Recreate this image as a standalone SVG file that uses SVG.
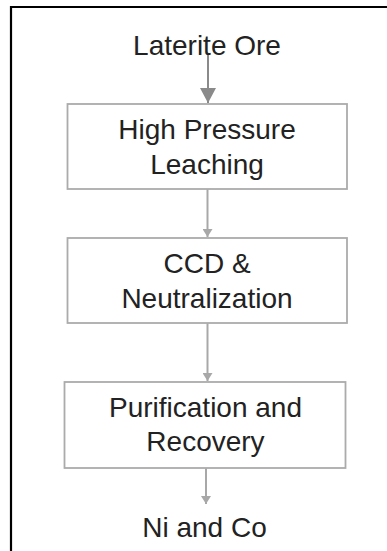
<svg xmlns="http://www.w3.org/2000/svg" width="387" height="551" viewBox="0 0 387 551">
<style>
.t{font-family:"Liberation Sans",Arial,sans-serif;font-size:28px;fill:#222;text-anchor:middle}
.box{fill:#fff;stroke:#ababab;stroke-width:1.8}
.c{stroke:#a8a8a8;stroke-width:2;fill:none}
.c1{stroke:#8a8a8a;stroke-width:2;fill:none}
</style>
<defs>
<marker id="ah" markerWidth="8" markerHeight="10" refX="8" refY="5" orient="auto" markerUnits="userSpaceOnUse">
<path d="M0,0 L8,5 L0,10 z" fill="#a8a8a8"/>
</marker>
<marker id="ah1" markerWidth="15" markerHeight="16" refX="15" refY="8" orient="auto" markerUnits="userSpaceOnUse">
<path d="M0,0 L15,8 L0,16 z" fill="#8a8a8a"/>
</marker>
</defs>
<rect width="387" height="551" fill="#fff"/>
<g id="frame">
<path d="M10,7 H387 M11,6 V551" stroke="#000" stroke-width="2.2" fill="none"/>
</g>
<g id="connectors">
<line class="c1" x1="208" y1="53" x2="208" y2="103" marker-end="url(#ah1)"/>
<line class="c" x1="207.5" y1="189" x2="207.5" y2="237" marker-end="url(#ah)"/>
<line class="c" x1="207.5" y1="323" x2="207.5" y2="381" marker-end="url(#ah)"/>
<line class="c" x1="206" y1="468" x2="206" y2="504" marker-end="url(#ah)"/>
</g>
<g id="n0"><text class="t" x="207" y="55">Laterite Ore</text></g>
<g id="n1"><rect class="box" x="67.5" y="104" width="279.5" height="85"/>
<text class="t" x="207" y="139">High Pressure</text>
<text class="t" x="207" y="174">Leaching</text></g>
<g id="n2"><rect class="box" x="67.5" y="238" width="279.5" height="85"/>
<text class="t" x="207" y="273">CCD &amp;</text>
<text class="t" x="207" y="308">Neutralization</text></g>
<g id="n3"><rect class="box" x="64.5" y="382" width="281" height="86"/>
<text class="t" x="205.5" y="417">Purification and</text>
<text class="t" x="205.5" y="451">Recovery</text></g>
<g id="n4"><text class="t" x="204.5" y="537">Ni and Co</text></g>
</svg>
